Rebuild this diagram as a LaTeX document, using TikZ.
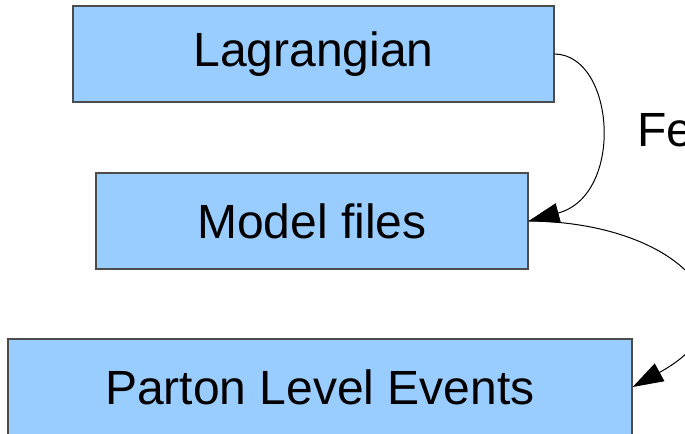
\documentclass[tikz,border=0pt]{standalone}
\usepackage{fontspec}
\setmainfont{Liberation Sans}
\usetikzlibrary{arrows.meta}
\definecolor{boxblue}{HTML}{99CCFF}
\begin{document}
\begin{tikzpicture}[x=0.75pt, y=-0.75pt,
        box/.style={draw=black!70, line width=1pt, fill=boxblue, inner sep=0pt,
            minimum height=72pt, font=\fontsize{36}{40}\selectfont},
        flow/.style={-{Triangle[length=23pt, width=15pt]}, line width=0.75pt}]
        \useasboundingbox (0,0) rectangle (685,434);
        \clip (0,0) rectangle (685,434);
        \node[box, minimum width=360.75pt] (lagr) at (313.5,54) {Lagrangian};
        \node[box, minimum width=324pt] (model) at (312,221) {Model files};
        \node[box, minimum width=468pt] (parton) at (320,387) {Parton Level Events};
        \node[anchor=base west, inner sep=0pt, font=\fontsize{36}{40}\selectfont] (fe) at (637,147) {Fe};
        \draw[flow] (lagr.east) .. controls (615,55) and (625,195) .. (model.east);
        \draw[flow] (model.east) .. controls (680,222) and (765,315) .. (parton.east);
    \end{tikzpicture}
\end{document}
